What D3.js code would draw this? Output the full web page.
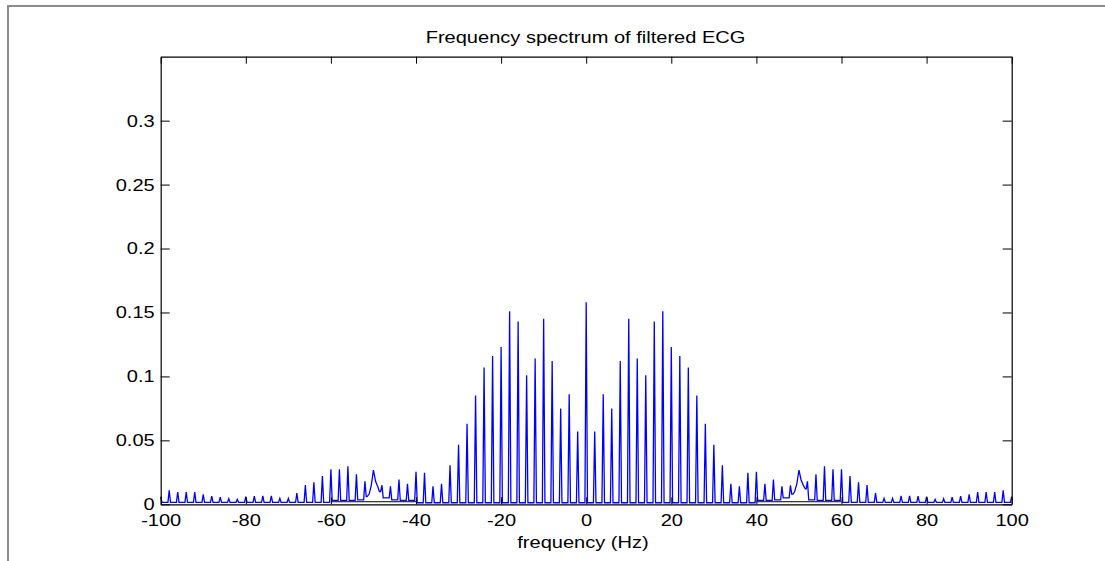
<!DOCTYPE html>
<html>
<head>
<meta charset="utf-8">
<script src="https://cdn.jsdelivr.net/npm/d3@7"></script>
<style>
  body { margin: 0; background: #fff; }
  svg { display: block; }
  text { font-family: "Liberation Sans", Arial, sans-serif; fill: #000; }
</style>
</head>
<body>
<svg id="chart" width="1105" height="561"></svg>
<script>
// x tick values and y tick values
var xTicks = [-100, -80, -60, -40, -20, 0, 20, 40, 60, 80, 100]
var yTicks = [0, 0.05, 0.1, 0.15, 0.2, 0.25, 0.3]

// spike heights at -100, -98, ..., 100 Hz
var peaks = [
  0.006, 0.011, 0.0096, 0.0096, 0.0096, 0.0077, 0.0064, 0.0056, 0.0044, 0.0038,
  0.006, 0.0063, 0.0066, 0.0066, 0.0046, 0.0046, 0.0087, 0.015, 0.0173, 0.0222,
  0.0274, 0.0274, 0.0298, 0.0235, 0.0179, 0.0267, 0.0149, 0.0141, 0.0194, 0.016,
  0.0254, 0.0246, 0.0141, 0.016, 0.0306, 0.0466, 0.063, 0.085, 0.107, 0.116,
  0.123, 0.151, 0.143, 0.101, 0.114, 0.145, 0.112, 0.075, 0.086, 0.057,
  0.158,
  0.057, 0.086, 0.075, 0.112, 0.145, 0.114, 0.101, 0.143, 0.151, 0.123,
  0.116, 0.107, 0.085, 0.063, 0.0466, 0.0306, 0.016, 0.0141, 0.0246, 0.0254,
  0.016, 0.0194, 0.0141, 0.0149, 0.0267, 0.0179, 0.0235, 0.0298, 0.0274, 0.0274,
  0.0222, 0.0173, 0.015, 0.0087, 0.0046, 0.0046, 0.0066, 0.0066, 0.0063, 0.006,
  0.0038, 0.0044, 0.0056, 0.0064, 0.0077, 0.0096, 0.0096, 0.0096, 0.011, 0.006
]

// floor level between spikes, at -99, -97, ..., 99 Hz
var troughs = [
  0.0015, 0.0015, 0.0015, 0.0015, 0.0015, 0.0015, 0.0015, 0.0015, 0.0015, 0.0015,
  0.0015, 0.0015, 0.0015, 0.0015, 0.0015, 0.0015, 0.0015, 0.0015, 0.0015, 0.0015,
  0.003, 0.003, 0.003, 0.0035, 0.006, 0.01, 0.005, 0.0035, 0.003, 0.003,
  0.0012, 0.0012, 0.0012, 0.0012, 0.0012, 0.0012, 0.0012, 0.0012, 0.0012, 0.0012,
  0.0012, 0.0012, 0.0012, 0.0012, 0.0012, 0.0012, 0.0012, 0.0012, 0.0012, 0.0012,
  0.0012, 0.0012, 0.0012, 0.0012, 0.0012, 0.0012, 0.0012, 0.0012, 0.0012, 0.0012,
  0.0012, 0.0012, 0.0012, 0.0012, 0.0012, 0.0012, 0.0012, 0.0012, 0.0012, 0.0012,
  0.003, 0.003, 0.0035, 0.005, 0.008, 0.012, 0.0035, 0.003, 0.003, 0.003,
  0.0015, 0.0015, 0.0015, 0.0015, 0.0015, 0.0015, 0.0015, 0.0015, 0.0015, 0.0015,
  0.0015, 0.0015, 0.0015, 0.0015, 0.0015, 0.0015, 0.0015, 0.0015, 0.0015, 0.0015
]

// broad 50 Hz mains hump, [Hz, value]
var humpNeg = [[-51.5, 0.006], [-51, 0.008], [-50.5, 0.015], [-50, 0.0267], [-49.5, 0.018], [-49, 0.014], [-48.6, 0.01]]
var humpPos = [[48.6, 0.008], [49, 0.01], [49.5, 0.016], [50, 0.0268], [50.5, 0.019], [51, 0.015], [51.5, 0.012]]

// black trace, [from Hz, to Hz, level]
var blackSegs = [[-60, -40, 0.002], [40, 60, 0.002]]

var svg = d3.select("#chart")

// outer grey frame
svg.append("rect")
  .attr("x", 8).attr("y", 6)
  .attr("width", 1120).attr("height", 600)
  .style("fill", "none")
  .style("stroke", "#8c8c8c")
  .style("stroke-width", 2)

var axL = 160.7, axR = 1011.7, axT = 56.7, axB = 504.3
var x = d3.scaleLinear().domain([-100, 100]).range([axL, axR])
var y = d3.scaleLinear().domain([0, 0.35]).range([axB, axT])

// build the spectrum path: flat floor, narrow spike at each even frequency
var w = 0.3
var pts = []
peaks.forEach(function(p, i) {
  var f = -100 + 2*i
  if (i > 0) pts.push([f - w, troughs[i-1]])
  pts.push([f, p])
  if (i < troughs.length) pts.push([f + w, troughs[i]])
})
// swap the +-50 Hz spikes for the broad hump
pts = pts.filter(function(d){ var a = Math.abs(d[0]); return a < 48.5 || a > 51.6 })
pts = pts.concat(humpNeg, humpPos).sort(function(a, b){ return a[0] - b[0] })

var line = d3.line()
  .x(function(d){ return x(d[0]) })
  .y(function(d){ return y(d[1]) })

var plot = svg.append("g")

plot.selectAll("blackseg")
  .data(blackSegs)
  .enter()
  .append("line")
    .attr("x1", function(d){ return x(d[0]) })
    .attr("x2", function(d){ return x(d[1]) })
    .attr("y1", function(d){ return y(d[2]) })
    .attr("y2", function(d){ return y(d[2]) })
    .style("stroke", "#000")
    .style("stroke-width", 1)

plot.append("path")
  .datum(pts)
  .attr("d", line)
  .style("fill", "none")
  .style("stroke", "#0000ff")
  .style("stroke-width", 1.3)

// axes, ticks pointing inward
var sx = 1.18  // labels in the reference are wide
var fmtY = function(d){ return d === 0 ? "0" : String(d) }

var gB = svg.append("g").attr("transform", "translate(0," + axB + ")")
  .call(d3.axisBottom(x).tickValues(xTicks).tickSizeInner(-7).tickSizeOuter(0).tickPadding(10).tickFormat(function(d){ return String(d) }))
var gT = svg.append("g").attr("transform", "translate(0," + axT + ")")
  .call(d3.axisTop(x).tickValues(xTicks).tickSizeInner(-7).tickSizeOuter(0).tickFormat(""))
var gL = svg.append("g").attr("transform", "translate(" + axL + ",0)")
  .call(d3.axisLeft(y).tickValues(yTicks).tickSizeInner(-9).tickSizeOuter(0).tickPadding(6).tickFormat(fmtY))
var gR = svg.append("g").attr("transform", "translate(" + axR + ",0)")
  .call(d3.axisRight(y).tickValues(yTicks).tickSizeInner(-9).tickSizeOuter(0).tickFormat(""))

;[gB, gT, gL, gR].forEach(function(g) {
  g.select(".domain").style("stroke", "#000").style("stroke-width", 1.2)
  g.selectAll(".tick line").style("stroke", "#000").style("stroke-width", 1)
  g.selectAll("text")
    .style("font-size", "17px")
    .style("font-family", "'Liberation Sans', Arial, sans-serif")
    .attr("fill", "#000")
})
gB.selectAll(".tick text").attr("transform", "scale(" + sx + ",1)")
gL.selectAll(".tick text").attr("x", -6 / sx).attr("transform", "scale(" + sx + ",1)")

// title and x label
svg.append("g").attr("transform", "translate(585.5,43)")
  .append("text")
  .attr("text-anchor", "middle")
  .attr("transform", "scale(" + sx + ",1)")
  .style("font-size", "17px")
  .text("Frequency spectrum of filtered ECG")

svg.append("g").attr("transform", "translate(583,548)")
  .append("text")
  .attr("text-anchor", "middle")
  .attr("transform", "scale(" + sx + ",1)")
  .style("font-size", "17px")
  .text("frequency (Hz)")
</script>
</body>
</html>
